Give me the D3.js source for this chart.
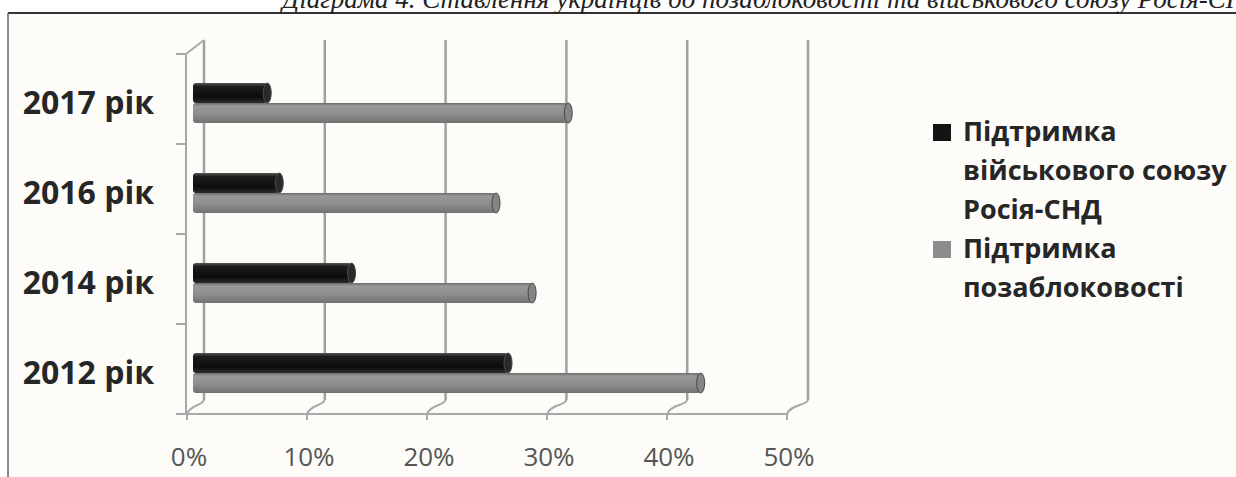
<!DOCTYPE html>
<html>
<head>
<meta charset="utf-8">
<script src="https://cdn.jsdelivr.net/npm/d3@7"></script>
<style>
  body { margin: 0; background: #ffffff; }
  svg { display: block; }
</style>
</head>
<body>
<svg id="chart"></svg>
<script>
// data
var years = ["2012 рік", "2014 рік", "2016 рік", "2017 рік"]
var unionSupport = [26, 13, 7, 6]      // Підтримка військового союзу Росія-СНД
var nonBlocSupport = [42, 28, 25, 31]  // Підтримка позаблоковості
var xTicks = [0, 10, 20, 30, 40, 50]
var seriesKeys = ["union", "nonbloc"]
var legendLines = [["Підтримка", "військового союзу", "Росія-СНД"], ["Підтримка", "позаблоковості"]]
var titleText = "Діаграма 4. Ставлення українців до позаблоковості та військового союзу Росія-СНД"

var width = 1236, height = 477

var svg = d3.select("#chart")
            .attr("width", width)
            .attr("height", height)

//styles
var gridColor = "#a0a0a0"
var wallColor = "#a8a8a8"
var labelFont = "'Open Sans', 'Noto Sans', sans-serif"
var seriesFill = {union: "url(#gradUnion)", nonbloc: "url(#gradNonbloc)"}
var seriesCap = {union: "#2a2a2a", nonbloc: "#858585"}
var legendColor = {union: "#141414", nonbloc: "#8c8c8c"}

//gradients for the 3d bars
var defs = svg.append("defs")
var gU = defs.append("linearGradient").attr("id", "gradUnion")
             .attr("x1", 0).attr("y1", 0).attr("x2", 0).attr("y2", 1)
gU.append("stop").attr("offset", "0%").attr("stop-color", "#555")
gU.append("stop").attr("offset", "18%").attr("stop-color", "#1c1c1c")
gU.append("stop").attr("offset", "70%").attr("stop-color", "#0c0c0c")
gU.append("stop").attr("offset", "100%").attr("stop-color", "#2e2e2e")
var gN = defs.append("linearGradient").attr("id", "gradNonbloc")
             .attr("x1", 0).attr("y1", 0).attr("x2", 0).attr("y2", 1)
gN.append("stop").attr("offset", "0%").attr("stop-color", "#6a6a6a")
gN.append("stop").attr("offset", "15%").attr("stop-color", "#999")
gN.append("stop").attr("offset", "55%").attr("stop-color", "#8e8e8e")
gN.append("stop").attr("offset", "100%").attr("stop-color", "#727272")

//frame
svg.append("rect")
   .attr("x", 8).attr("y", 13)
   .attr("width", width).attr("height", height)
   .attr("fill", "#fdfcf9")
svg.append("line")
   .attr("x1", 8).attr("x2", width).attr("y1", 13).attr("y2", 13)
   .attr("stroke", "#333").attr("stroke-width", 2)
svg.append("line")
   .attr("x1", 8).attr("x2", 8).attr("y1", 13).attr("y2", height)
   .attr("stroke", "#666").attr("stroke-width", 1.5)

//title (cut off at the top like the scan)
svg.append("text")
   .attr("x", 282).attr("y", 8)
   .attr("font-family", "'Liberation Serif', 'DejaVu Serif', serif")
   .attr("font-style", "italic")
   .attr("font-size", 27)
   .attr("fill", "#222")
   .text(titleText)

//scales: front edge of floor, back wall, bar plane
var xFront = d3.scaleLinear().domain([0, 50]).range([187, 787])
var xBack = d3.scaleLinear().domain([0, 50]).range([204, 808])
var xBar = d3.scaleLinear().domain([0, 50]).range([195, 797])
var yCat = d3.scaleBand().domain(years.slice().reverse()).range([54, 414])
var ySer = d3.scaleBand().domain(seriesKeys).range([29, 69])

var floorFront = yCat.range()[1]
var floorBack = 400
var wallTop = 40

//back wall gridlines
svg.append("g")
   .selectAll("line")
   .data(xTicks)
   .enter()
   .append("line")
   .attr("x1", d => xBack(d)).attr("x2", d => xBack(d))
   .attr("y1", wallTop).attr("y2", floorBack)
   .attr("stroke", gridColor)
   .attr("stroke-width", 2.5)

//floor: front edge, connectors to the back wall, ticks
var floor = svg.append("g").attr("fill", "none").attr("stroke", wallColor).attr("stroke-width", 2)
floor.append("line")
     .attr("x1", xFront(0)).attr("x2", xFront(50))
     .attr("y1", floorFront).attr("y2", floorFront)
floor.selectAll(".conn")
     .data(xTicks)
     .enter()
     .append("path")
     .attr("class", "conn")
     .attr("d", d => "M" + xFront(d) + "," + floorFront +
                     " C" + (xFront(d) + 4) + "," + (floorFront - 10) +
                     " " + (xBack(d) - 2) + "," + (floorBack + 6) +
                     " " + xBack(d) + "," + floorBack)
floor.selectAll(".tick")
     .data(xTicks)
     .enter()
     .append("line")
     .attr("class", "tick")
     .attr("x1", d => xFront(d)).attr("x2", d => xFront(d))
     .attr("y1", floorFront).attr("y2", floorFront + 6)

//left side wall
var side = svg.append("g").attr("fill", "none").attr("stroke", wallColor).attr("stroke-width", 2)
side.append("line")
    .attr("x1", xFront(0) - 1).attr("x2", xFront(0) - 1)
    .attr("y1", yCat.range()[0]).attr("y2", floorFront)
side.append("line")
    .attr("x1", xFront(0) - 1).attr("x2", xBack(0))
    .attr("y1", yCat.range()[0]).attr("y2", wallTop)
var catEdges = yCat.domain().map(d => yCat(d)).concat([floorFront])
side.selectAll(".ctick")
    .data(catEdges)
    .enter()
    .append("line")
    .attr("class", "ctick")
    .attr("x1", xFront(0) - 11).attr("x2", xFront(0) - 1)
    .attr("y1", d => d).attr("y2", d => d)

//bars
var rows = years.map((y, i) => ({year: y, union: unionSupport[i], nonbloc: nonBlocSupport[i]}))
var barH = ySer.bandwidth()
var capR = 4

var groups = svg.append("g")
                .selectAll(".year")
                .data(rows)
                .enter()
                .append("g")
                .attr("class", "year")
                .attr("transform", d => "translate(0," + yCat(d.year) + ")")

seriesKeys.slice().reverse().forEach(function(key) {
    //body
    groups.append("rect")
          .attr("x", xBar(0) - 2)
          .attr("y", ySer(key))
          .attr("width", d => xBar(d[key]) - xBar(0) + 2)
          .attr("height", barH)
          .attr("rx", 3)
          .attr("fill", seriesFill[key])
    //rounded end
    groups.append("ellipse")
          .attr("cx", d => xBar(d[key]))
          .attr("cy", ySer(key) + barH / 2)
          .attr("rx", capR)
          .attr("ry", barH / 2)
          .attr("fill", seriesCap[key])
          .attr("stroke", "#4a4a4a")
          .attr("stroke-width", 1)
})

//category labels
svg.append("g")
   .selectAll("text")
   .data(years)
   .enter()
   .append("text")
   .attr("x", 154)
   .attr("y", d => yCat(d) + yCat.bandwidth() / 2 + 15)
   .attr("text-anchor", "end")
   .attr("font-family", labelFont)
   .attr("font-weight", "bold")
   .attr("font-size", 32)
   .attr("fill", "#262626")
   .text(d => d)

//percent labels
svg.append("g")
   .selectAll("text")
   .data(xTicks)
   .enter()
   .append("text")
   .attr("x", d => xFront(d) + 2)
   .attr("y", 466)
   .attr("text-anchor", "middle")
   .attr("font-family", labelFont)
   .attr("font-size", 26)
   .attr("fill", "#555")
   .text(d => d + "%")

//legend
var legendX = 933, legendY = 141, lineH = 39
var lineIndex = 0
seriesKeys.forEach(function(key, i) {
    var firstLine = legendY + lineIndex * lineH
    svg.append("rect")
       .attr("x", legendX)
       .attr("y", firstLine - 17)
       .attr("width", 18)
       .attr("height", 17)
       .attr("fill", legendColor[key])
    legendLines[i].forEach(function(t, j) {
        svg.append("text")
           .attr("x", legendX + 30)
           .attr("y", firstLine + j * lineH)
           .attr("font-family", labelFont)
           .attr("font-weight", "bold")
           .attr("font-size", 27)
           .attr("fill", "#262626")
           .text(t)
    })
    lineIndex += legendLines[i].length
})
</script>
</body>
</html>
